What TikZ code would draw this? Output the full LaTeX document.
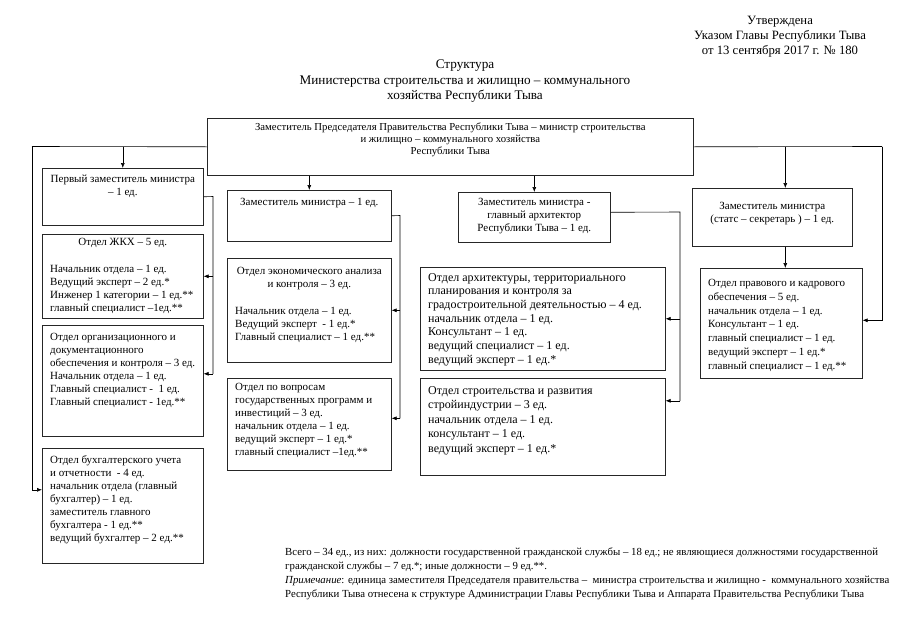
\documentclass[tikz,border=0pt]{standalone}
\usepackage{fontspec}
\setmainfont{Liberation Serif}
\usetikzlibrary{arrows.meta}
\tikzset{
  box/.style={draw=black!85,line width=0.6pt,anchor=north west,inner sep=0pt},
  txt/.style={anchor=north west,align=left,inner sep=0pt,font=\fontsize{11}{13}\selectfont},
  ctxt/.style={anchor=north,align=center,inner sep=0pt,font=\fontsize{11}{13}\selectfont},
  bigtxt/.style={txt,font=\fontsize{12}{13.7}\selectfont},
  arr/.style={-{Latex[length=5pt,width=4pt]},line width=0.6pt},
  ln/.style={line width=0.6pt}
}
\begin{document}
\begin{tikzpicture}[x=1pt,y=-1pt]
\useasboundingbox (0,0) rectangle (905,640);
% header
\node[align=center,anchor=north,inner sep=0pt,font=\fontsize{12.7}{15}\selectfont] (appr) at (780,16)
  {Утверждена\\Указом Главы Республики Тыва\\от 13 сентября 2017 г. № 180};
\node[align=center,anchor=north,inner sep=0pt,font=\fontsize{13.2}{15.5}\selectfont] (title) at (465,60)
  {Структура\\Министерства строительства и жилищно – коммунального\\хозяйства Республики Тыва};
% minister
\node[box,minimum width=486pt,minimum height=57pt] (top) at (207,118) {};
\node[ctxt,font=\fontsize{10.7}{12.3}\selectfont] (top-t) at ([yshift=-4.5pt]top.north)
  {Заместитель Председателя Правительства Республики Тыва – министр строительства\\
   и жилищно – коммунального хозяйства\\Республики Тыва};
% first column
\node[box,minimum width=161pt,minimum height=57pt] (fd) at (42,168) {};
\node[ctxt] (fd-t) at ([yshift=-6.5pt]fd.north) {Первый заместитель министра\\– 1 ед.};
\node[box,minimum width=161pt,minimum height=84pt] (zhkh) at (42,234) {};
\node[ctxt] (zhkh-h) at ([yshift=-4pt]zhkh.north) {Отдел ЖКХ – 5 ед.};
\node[txt] (zhkh-t) at (50,265)
  {Начальник отдела – 1 ед.\\Ведущий эксперт – 2 ед.*\\Инженер 1 категории – 1 ед.**\\главный специалист –1ед.**};
\node[box,minimum width=161pt,minimum height=111pt] (org) at (42,325) {};
\node[txt] (org-t) at (50,333)
  {Отдел организационного и\\документационного\\обеспечения и контроля – 3 ед.\\Начальник отдела – 1 ед.\\
   Главный специалист - \ 1 ед.\\Главный специалист - 1ед.**};
\node[box,minimum width=161pt,minimum height=115pt] (acc) at (42,448) {};
\node[txt] (acc-t) at (50,455)
  {Отдел бухгалтерского учета\\и отчетности \ - 4 ед.\\начальник отдела (главный\\бухгалтер) – 1 ед.\\
   заместитель главного\\бухгалтера - 1 ед.**\\ведущий бухгалтер – 2 ед.**};
% second column
\node[box,minimum width=164pt,minimum height=51pt] (dep2) at (227,190) {};
\node[ctxt] (dep2-t) at ([yshift=-8pt]dep2.north) {Заместитель министра – 1 ед.};
\node[box,minimum width=164pt,minimum height=104pt] (econ) at (227,258) {};
\node[ctxt] (econ-h) at ([yshift=-9.5pt]econ.north) {Отдел экономического анализа\\и контроля – 3 ед.};
\node[txt] (econ-t) at (235,307)
  {Начальник отдела – 1 ед.\\Ведущий эксперт \ - 1 ед.*\\Главный специалист – 1 ед.**};
\node[box,minimum width=164pt,minimum height=92pt] (prog) at (227,378) {};
\node[txt] (prog-t) at (235,383)
  {Отдел по вопросам\\государственных программ и\\инвестиций – 3 ед.\\начальник отдела – 1 ед.\\
   ведущий эксперт – 1 ед.*\\главный специалист –1ед.**};
% third column
\node[box,minimum width=152pt,minimum height=50pt] (dep3) at (458,192) {};
\node[ctxt] (dep3-t) at ([yshift=-6.5pt]dep3.north)
  {Заместитель министра -\\главный архитектор\\Республики Тыва – 1 ед.};
\node[box,minimum width=245pt,minimum height=103pt] (arch) at (420,267) {};
\node[bigtxt] (arch-t) at (428,273)
  {Отдел архитектуры, территориального\\планирования и контроля за\\градостроительной деятельностью – 4 ед.\\
   начальник отдела – 1 ед.\\Консультант – 1 ед.\\ведущий специалист – 1 ед.\\ведущий эксперт – 1 ед.*};
\node[bigtxt,font=\fontsize{12}{14.5}\selectfont] (cons-t) at (428,386)
  {Отдел строительства и развития\\стройиндустрии – 3 ед.\\начальник отдела – 1 ед.\\консультант – 1 ед.\\
   ведущий эксперт – 1 ед.*};
\node[box,minimum width=245pt,minimum height=97pt] (cons) at (420,378) {};
% fourth column
\node[box,minimum width=160pt,minimum height=58pt] (stat) at (692,188) {};
\node[ctxt] (stat-t) at ([yshift=-14pt]stat.north) {Заместитель министра\\(статс – секретарь ) – 1 ед.};
\node[box,minimum width=162pt,minimum height=110pt] (law) at (700,268) {};
\node[txt,font=\fontsize{11}{13.8}\selectfont] (law-t) at (708,279)
  {Отдел правового и кадрового\\обеспечения – 5 ед.\\начальник отдела – 1 ед.\\Консультант – 1 ед.\\
   главный специалист – 1 ед.\\ведущий эксперт – 1 ед.*\\главный специалист – 1 ед.**};
% connectors
\coordinate (lft) at (32,146.5);
\coordinate (rgt) at (882,146.5);
\draw[ln] (top.west) -- (lft);
\draw[arr] (lft) |- ([yshift=16pt]acc.west);
\draw[arr] (fd.north |- lft) -- (fd.north);
\draw[arr] (dep2.north |- top.south) -- (dep2.north);
\draw[arr] (dep3.north |- top.south) -- (dep3.north);
\draw[ln] (top.east) -- (rgt);
\draw[arr] (rgt) |- ([yshift=3pt]law.east);
\draw[arr] ([xshift=13pt]stat.north |- rgt) -- ([xshift=13pt]stat.north);
\draw[arr] ([xshift=13pt]stat.south) -- ([xshift=13pt]stat.south |- law.north);
\coordinate (fdr) at (213,196.5);
\draw[ln] (fd.east) -- (fdr) -- ([yshift=7pt]fdr |- org.east);
\draw[arr] (fdr |- zhkh.east) -- (zhkh.east);
\draw[arr] ([yshift=7pt]fdr |- org.east) -- ([yshift=7pt]org.east);
\coordinate (d2r) at (400,215.5);
\draw[ln] (dep2.east) -- (d2r) -- ([yshift=6pt]d2r |- prog.east);
\draw[arr] (d2r |- econ.east) -- (econ.east);
\draw[arr] ([yshift=6pt]d2r |- prog.east) -- ([yshift=6pt]prog.east);
\coordinate (d3r) at (680,212);
\draw[ln] ([yshift=5pt]dep3.east) -- (d3r) -- ([yshift=26pt]d3r |- cons.east);
\draw[arr] (d3r |- arch.east) -- (arch.east);
\draw[arr] ([yshift=26pt]d3r |- cons.east) -- ([yshift=26pt]cons.east);
% notes
\node[anchor=north west,align=left,inner sep=0pt,font=\fontsize{10.8}{14}\selectfont] (note) at (285,548)
  {Всего – 34 ед., из них: должности государственной гражданской службы – 18 ед.; не являющиеся должностями государственной\\
   гражданской службы – 7 ед.*; иные должности – 9 ед.**.\\
   \textit{Примечание}: единица заместителя Председателя правительства – \ министра строительства и жилищно - \ коммунального хозяйства\\
   Республики Тыва отнесена к структуре Администрации Главы Республики Тыва и Аппарата Правительства Республики Тыва};
\end{tikzpicture}
\end{document}
